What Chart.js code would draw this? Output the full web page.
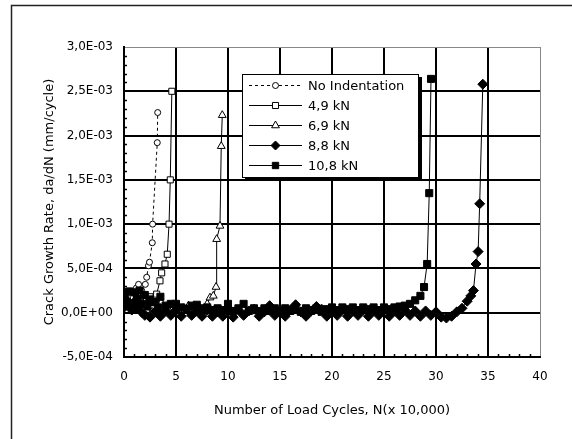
<!DOCTYPE html>
<html>
<head>
<meta charset="utf-8">
<script src="https://cdn.jsdelivr.net/npm/chart.js"></script>
<style>
  html, body { margin: 0; padding: 0; background: #fff; }
  canvas { display: block; }
</style>
</head>
<body>
<canvas id="crack_chart" width="572" height="439"></canvas>
<script>
// N in x 10,000 cycles, da/dN in mm/cycle
var seriesNames = ['No Indentation', '4,9 kN', '6,9 kN', '8,8 kN', '10,8 kN'];

var noIndentX = [0.1, 0.4, 0.7, 1.0, 1.2, 1.4, 1.7, 2.05, 2.18, 2.35, 2.45, 2.72, 2.75, 3.2, 3.24];
var noIndentY = [1.5e-4, 2.0e-4, 1.8e-4, 2.2e-4, 2.8e-4, 3.2e-4, 2.5e-4, 3.2e-4, 4.0e-4, 5.3e-4, 5.7e-4, 7.9e-4, 1.0e-3, 1.92e-3, 2.26e-3];

var kn49X = [0.1, 0.5, 0.9, 1.3, 1.7, 2.1, 2.5, 2.9, 3.14, 3.46, 3.62, 3.94, 4.16, 4.33, 4.45, 4.6];
var kn49Y = [2.0e-4, 2.4e-4, 2.1e-4, 1.9e-4, 1.6e-4, 1.4e-4, 1.8e-4, 1.5e-4, 2.1e-4, 3.6e-4, 4.5e-4, 5.5e-4, 6.6e-4, 1.0e-3, 1.5e-3, 2.5e-3];

var kn69X = [0.2, 0.7, 1.2, 1.7, 2.2, 2.7, 3.2, 3.7, 4.2, 4.7, 5.2, 5.7, 6.2, 6.7, 7.2, 7.7, 8.0, 8.27, 8.59, 8.85, 8.91, 9.23, 9.35, 9.45];
var kn69Y = [1.0e-4, 8e-5, 6e-5, 5e-5, 3e-5, 1e-5, 2e-5, 4e-5, 5e-5, 4e-5, 3e-5, 5e-5, 8e-5, 6e-5, 7e-5, 5e-5, 1.0e-4, 1.7e-4, 1.9e-4, 2.9e-4, 8.3e-4, 9.8e-4, 1.88e-3, 2.23e-3];

var kn88X = [0, 0.25, 0.5, 0.75, 1, 1.25, 1.5, 1.75, 2, 2.5, 3, 3.5, 4, 4.5, 5, 5.5, 6, 6.5, 7, 7.5, 8, 8.5, 9, 9.5,
  10, 10.5, 11, 11.5, 12, 12.5, 13, 13.5, 14, 14.5, 15, 15.5, 16, 16.5, 17, 17.5, 18, 18.5, 19, 19.5,
  20, 20.5, 21, 21.5, 22, 22.5, 23, 23.5, 24, 24.5, 25, 25.5, 26, 26.5, 27, 27.5, 28, 28.5, 29, 29.5,
  30, 30.5, 31, 31.5, 32, 32.5, 33, 33.35, 33.6, 33.85, 34.05, 34.2, 34.5];
var kn88Y = [6e-5, 1.4e-4, 1.0e-4, 3e-5, 1.2e-4, 5e-5, 8e-5, 0, -3e-5, -5e-5, 1e-5, -4e-5, 2e-5, -3e-5, 3e-5, -4e-5, 4e-5, -3e-5, 2e-5, -4e-5, 3e-5, -4e-5, 1e-5, -4e-5,
  2e-5, -5e-5, 3e-5, -3e-5, 2e-5, 4e-5, -4e-5, 1e-5, 8e-5, -3e-5, 2e-5, -4e-5, 3e-5, 9e-5, 1e-5, -4e-5, 2e-5, 7e-5, 4e-5, -4e-5,
  2e-5, -3e-5, 3e-5, -4e-5, 2e-5, -3e-5, 3e-5, -4e-5, 2e-5, -3e-5, 3e-5, -4e-5, 2e-5, -3e-5, 3e-5, -3e-5, 2e-5, -4e-5, 2e-5, -3e-5,
  1e-5, -5e-5, -6e-5, -4e-5, 1e-5, 5e-5, 1.3e-4, 1.9e-4, 2.5e-4, 5.5e-4, 6.9e-4, 1.23e-3, 2.58e-3];

var kn108X = [0, 0.25, 0.5, 0.75, 1, 1.25, 1.5, 1.75, 2, 2.25, 2.5, 2.75, 3, 3.25, 3.5, 4, 4.5, 5, 5.5, 6, 6.5, 7, 7.5, 8, 8.5, 9, 9.5,
  10, 10.5, 11, 11.5, 12, 12.5, 13, 13.5, 14, 14.5, 15, 15.5, 16, 16.5, 17, 17.5, 18, 18.5, 19, 19.5,
  20, 20.5, 21, 21.5, 22, 22.5, 23, 23.5, 24, 24.5, 25, 25.5, 26, 26.5, 27, 27.5, 28, 28.5,
  28.85, 29.15, 29.35, 29.52];
var kn108Y = [2.2e-4, 1.2e-4, 2.4e-4, 8e-5, 2.3e-4, 1.5e-4, 2.5e-4, 1.0e-4, 2.0e-4, 7e-5, 1.5e-4, 1.2e-4, 1.2e-4, 6e-5, 1.8e-4, 8e-5, 1.0e-4, 1.0e-4, 6e-5, 4e-5, 8e-5, 9e-5, 5e-5, 6e-5, 3e-5, 5e-5, 3e-5,
  1.0e-4, 2e-5, 5e-5, 1.0e-4, 2e-5, 5e-5, 2e-5, 5e-5, 2e-5, 5e-5, 1e-5, 5e-5, 2e-5, 5e-5, 1e-5, 5e-5, 2e-5, 5e-5, 1e-5, 4e-5,
  6e-5, 3e-5, 6e-5, 4e-5, 6e-5, 3e-5, 6e-5, 4e-5, 6e-5, 3e-5, 6e-5, 4e-5, 6e-5, 7e-5, 8e-5, 1.0e-4, 1.4e-4, 1.9e-4,
  2.9e-4, 5.5e-4, 1.35e-3, 2.64e-3];

var FONT = 'DejaVu Sans';

function pts(xs, ys) {
    return xs.map(function (x, i) { return {x: x, y: ys[i]}; });
}

// 3.0e-3 -> "3,0E-03"
function sciLabel(v) {
    if (Math.abs(v) < 1e-12) return '0,0E+00';
    var s = Number(v).toExponential(1).split('e');
    var e = parseInt(s[1], 10);
    var es = (e < 0 ? '-' : '+') + (Math.abs(e) < 10 ? '0' : '') + Math.abs(e);
    return s[0].replace('.', ',') + 'E' + es;
}

var pageFrame = {
    id: 'pageFrame',
    beforeDraw: function (chart) {
        var c = chart.ctx;
        c.save();
        c.fillStyle = '#fff';
        c.fillRect(0, 0, chart.width, chart.height);
        c.strokeStyle = '#222';
        c.lineWidth = 1.5;
        c.beginPath();
        c.moveTo(11.5, chart.height);
        c.lineTo(11.5, 5.5);
        c.lineTo(chart.width, 5.5);
        c.stroke();
        c.restore();
    }
};

// small inward ticks along the left and bottom axes
var minorTicks = {
    id: 'minorTicks',
    beforeDatasetsDraw: function (chart) {
        var c = chart.ctx, xs = chart.scales.x, ys = chart.scales.y, a = chart.chartArea;
        c.save();
        c.strokeStyle = '#000';
        c.lineWidth = 1.5;
        c.beginPath();
        for (var i = 0; i <= 40; i++) {
            if (i % 5 === 0) continue;
            var px = Math.round(xs.getPixelForValue(i)) + 0.5;
            c.moveTo(px, a.bottom);
            c.lineTo(px, a.bottom - 3);
        }
        for (var k = -5; k <= 30; k++) {
            if (k % 5 === 0) continue;
            var py = Math.round(ys.getPixelForValue(k * 1e-4)) + 0.5;
            c.moveTo(a.left, py);
            c.lineTo(a.left + 3, py);
        }
        c.stroke();
        c.restore();
    }
};

var boxLegend = {
    id: 'boxLegend',
    afterDraw: function (chart) {
        var c = chart.ctx;
        var L = 242, T = 74, R = 419, B = 178;
        c.save();
        c.fillStyle = '#fff';
        c.fillRect(L, T, R - L, B - T);
        c.fillStyle = '#000';
        c.fillRect(R, T + 3, 3, B - T);
        c.fillRect(L + 3, B, R - L, 3);
        c.strokeStyle = '#000';
        c.lineWidth = 1;
        c.strokeRect(L + 0.5, T + 0.5, R - L - 1, B - T - 1);
        chart.data.datasets.forEach(function (ds, i) {
            var y = 85.5 + i * 20;
            c.save();
            c.strokeStyle = '#000';
            c.lineWidth = 1;
            c.setLineDash(ds.borderDash || []);
            c.beginPath();
            c.moveTo(249, y);
            c.lineTo(302, y);
            c.stroke();
            c.restore();
            c.fillStyle = ds.pointBackgroundColor;
            c.strokeStyle = '#000';
            c.lineWidth = 1;
            Chart.helpers.drawPoint(c, {pointStyle: ds.pointStyle, radius: Math.min(ds.pointRadius, 4.5), rotation: 0, borderWidth: 1}, 275.5, y);
            c.fillStyle = '#000';
            c.font = '13px "' + FONT + '"';
            c.textBaseline = 'middle';
            c.textAlign = 'left';
            c.fillText(ds.label, 308, y + 1);
        });
        c.restore();
    }
};

function makeSet(i, xs, ys, style, radius, fill, dash, order) {
    return {
        label: seriesNames[i],
        data: pts(xs, ys),
        order: order,
        showLine: true,
        borderColor: '#000',
        borderWidth: 1,
        borderDash: dash,
        pointStyle: style,
        pointRadius: radius,
        pointHoverRadius: radius,
        pointBackgroundColor: fill,
        pointBorderColor: '#000',
        pointBorderWidth: 1,
        tension: 0
    };
}

document.addEventListener('DOMContentLoaded', function () {
    var chx = document.getElementById('crack_chart');
    var gChart = new Chart(chx, {
        type: 'scatter',
        data: {
            datasets: [
                makeSet(0, noIndentX, noIndentY, 'circle', 3, '#fff', [3, 3], 1),
                makeSet(1, kn49X, kn49Y, 'rect', 4.3, '#fff', [], 2),
                makeSet(2, kn69X, kn69Y, 'triangle', 4.5, '#fff', [], 3),
                makeSet(3, kn88X, kn88Y, 'rectRot', 5, '#000', [], 0),
                makeSet(4, kn108X, kn108Y, 'rect', 5, '#000', [], 0)
            ]
        },
        options: {
            responsive: false,
            animation: false,
            events: [],
            layout: { padding: { top: 47, right: 32, left: 0, bottom: 0 } },
            plugins: {
                legend: { display: false },
                tooltip: { enabled: false }
            },
            scales: {
                x: {
                    type: 'linear',
                    min: 0,
                    max: 40,
                    afterFit: function (s) { s.height = 82; },
                    ticks: { stepSize: 5, color: '#000', padding: 13, maxRotation: 0, font: { family: FONT, size: 12 } },
                    grid: {
                        drawTicks: false,
                        lineWidth: function (ctx) { return ctx.tick && ctx.tick.value === 40 ? 1 : 2; },
                        color: function (ctx) { return ctx.tick && ctx.tick.value === 40 ? '#888' : '#000'; }
                    },
                    border: { color: '#000', width: 2 },
                    title: {
                        display: true,
                        text: 'Number of Load Cycles, N(x 10,000)',
                        color: '#000',
                        font: { family: FONT, size: 13 },
                        padding: { top: 0, bottom: 21 }
                    }
                },
                y: {
                    type: 'linear',
                    min: -0.0005,
                    max: 0.003,
                    afterFit: function (s) { s.width = 124; },
                    ticks: { stepSize: 0.0005, color: '#000', padding: 11, font: { family: FONT, size: 12 }, callback: sciLabel },
                    grid: {
                        drawTicks: false,
                        lineWidth: function (ctx) { return ctx.tick && Math.abs(ctx.tick.value - 0.003) < 1e-9 ? 1 : 2; },
                        color: function (ctx) { return ctx.tick && Math.abs(ctx.tick.value - 0.003) < 1e-9 ? '#888' : '#000'; }
                    },
                    border: { color: '#000', width: 2 },
                    title: {
                        display: true,
                        text: 'Crack Growth Rate, da/dN (mm/cycle)',
                        color: '#000',
                        font: { family: FONT, size: 13 },
                        padding: { top: 42, bottom: 0 }
                    }
                }
            }
        },
        plugins: [pageFrame, minorTicks, boxLegend]
    });
});
</script>
</body>
</html>
